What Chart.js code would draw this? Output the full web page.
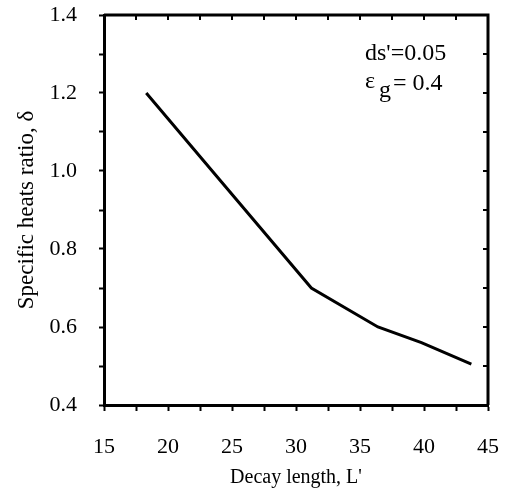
<!DOCTYPE html>
<html>
<head>
<meta charset="utf-8">
<script src="https://cdn.jsdelivr.net/npm/chart.js@4"></script>
<style>
    html, body { margin: 0; padding: 0; background: #fff; }
    #wrap { width: 507px; height: 490px; }
</style>
</head>
<body>
<div id="wrap"><canvas id="heatChart" width="507" height="490"></canvas></div>
<script>
/* ========================================
   Specific heats ratio vs decay length
   ======================================== */

// data
const decayLength = [18.3, 24.1, 31.2, 36.4, 39.8, 43.7];
const heatsRatio  = [1.20, 0.975, 0.70, 0.60, 0.56, 0.505];

const xTicks = [15, 20, 25, 30, 35, 40, 45];
const yTicks = [0.4, 0.6, 0.8, 1.0, 1.2, 1.4];

const FONT = "'Liberation Serif', 'Times New Roman', serif";

// inward ticks on top/right, and the closing frame
const framePlugin = {
    id: 'frame',
    afterDraw(chart) {
        const { ctx, chartArea: a, scales } = chart;
        ctx.save();
        ctx.strokeStyle = '#000';
        ctx.lineWidth = 3;
        ctx.beginPath();
        ctx.moveTo(a.left, a.top);
        ctx.lineTo(a.right, a.top);
        ctx.lineTo(a.right, a.bottom);
        ctx.stroke();

        ctx.lineWidth = 2;
        scales.x.ticks.forEach(t => {
            const px = scales.x.getPixelForValue(t.value);
            ctx.beginPath();
            ctx.moveTo(px, a.top);
            ctx.lineTo(px, a.top + 5);
            ctx.stroke();
        });
        scales.y.ticks.forEach(t => {
            const py = scales.y.getPixelForValue(t.value);
            ctx.beginPath();
            ctx.moveTo(a.right, py);
            ctx.lineTo(a.right - 5, py);
            ctx.stroke();
        });

        // parameter note
        ctx.fillStyle = '#000';
        ctx.textBaseline = 'alphabetic';
        ctx.font = '24px ' + FONT;
        ctx.fillText("ds'=0.05", 365, 60);
        ctx.fillText('\u03b5', 365, 88);
        ctx.fillText('= 0.4', 393, 90);
        ctx.fillText('g', 379, 97);
        ctx.restore();
    }
};

new Chart(document.getElementById('heatChart'), {
    type: 'line',
    data: {
        datasets: [{
            data: decayLength.map((x, i) => ({ x: x, y: heatsRatio[i] })),
            borderColor: '#000',
            borderWidth: 3,
            pointRadius: 0,
            tension: 0,
            fill: false
        }]
    },
    options: {
        responsive: false,
        animation: false,
        layout: { padding: { top: 15, right: 19, left: 0, bottom: 0 } },
        plugins: {
            legend: { display: false },
            tooltip: { enabled: false }
        },
        scales: {
            x: {
                type: 'linear',
                min: 15,
                max: 45,
                afterFit: s => {
                    s.height = 85;
                    s.paddingLeft = 0;
                    s.paddingRight = 0;
                },
                border: { color: '#000', width: 3 },
                grid: {
                    drawOnChartArea: false,
                    drawTicks: true,
                    tickLength: 6,
                    tickWidth: 2,
                    tickColor: '#000'
                },
                ticks: {
                    stepSize: 2.5,
                    autoSkip: false,
                    maxRotation: 0,
                    padding: 23,
                    color: '#000',
                    font: { family: FONT, size: 22 },
                    callback: v => xTicks.includes(v) ? String(v) : ''
                },
                title: {
                    display: true,
                    text: "Decay length, L'",
                    color: '#000',
                    font: { family: FONT, size: 20 },
                    padding: { top: 0, bottom: 0 }
                }
            },
            y: {
                min: 0.4,
                max: 1.4,
                afterFit: s => {
                    s.width = 104;
                    s.paddingTop = 0;
                    s.paddingBottom = 0;
                },
                border: { color: '#000', width: 3 },
                grid: {
                    drawOnChartArea: false,
                    drawTicks: true,
                    tickLength: 5,
                    tickWidth: 2,
                    tickColor: '#000'
                },
                ticks: {
                    stepSize: 0.1,
                    autoSkip: false,
                    padding: 22,
                    color: '#000',
                    font: { family: FONT, size: 22 },
                    callback: v => {
                        const r = Math.round(v * 10) / 10;
                        return yTicks.some(t => Math.abs(t - r) < 1e-6) ? r.toFixed(1) : '';
                    }
                },
                title: {
                    display: true,
                    text: 'Specific heats ratio, \u03b4',
                    color: '#000',
                    font: { family: FONT, size: 23 },
                    padding: { top: 13, bottom: 0 }
                }
            }
        }
    },
    plugins: [framePlugin]
});
</script>
</body>
</html>
